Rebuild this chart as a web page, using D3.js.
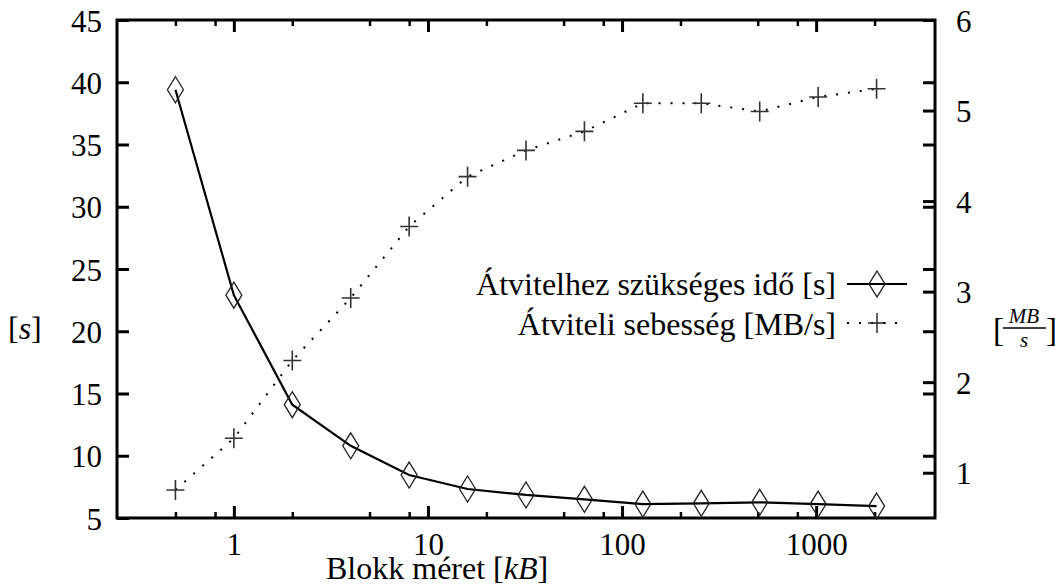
<!DOCTYPE html>
<html>
<head>
<meta charset="utf-8">
<script src="https://cdn.jsdelivr.net/npm/d3@7"></script>
<style>
  body { margin: 0; background: #fff; }
  svg, svg text { font-family: "Liberation Serif", "DejaVu Serif"; }
</style>
</head>
<body>
<div id="chart"></div>
<script>
// data
const blockSizes = [0.5, 1, 2, 4, 8, 16, 32, 64, 128, 256, 512, 1024, 2048];
const transferTime = [39.4, 22.9, 14.1, 10.8, 8.45, 7.33, 6.85, 6.5, 6.12, 6.18, 6.26, 6.12, 5.96];
const transferSpeed = [0.81, 1.38, 2.24, 2.93, 3.72, 4.27, 4.56, 4.77, 5.08, 5.08, 4.99, 5.15, 5.24];

const xMajorTicks = [1, 10, 100, 1000];
const xMinorTicks = [0.5, 0.8, 2, 5, 8, 20, 50, 80, 200, 500, 800, 2000];
const yLeftTicks = [5, 10, 15, 20, 25, 30, 35, 40, 45];
const yRightTicks = [1, 2, 3, 4, 5, 6];

const seriesNames = ["Átvitelhez szükséges idő [s]", "Átviteli sebesség [MB/s]"];

const width = 1056, height = 586;
const plot = { left: 117, right: 935, top: 20, bottom: 518 };
const serif = "Liberation Serif, DejaVu Serif";

const svg = d3.select("#chart").append("svg")
  .attr("width", width)
  .attr("height", height)
  .attr("font-family", serif);

// scales
const x = d3.scaleLog().domain([0.25, 4096]).range([plot.left, plot.right]);
const y1 = d3.scaleLinear().domain([5, 45]).range([plot.bottom, plot.top]);
const y2 = d3.scaleLinear().domain([0.5, 6]).range([plot.bottom, plot.top]);

const tickFont = 31;

function styleAxis(g, major) {
  g.attr("font-family", serif).attr("font-size", tickFont);
  g.select(".domain").remove();
  g.selectAll(".tick line").attr("stroke", "#000").attr("stroke-width", major ? 3 : 2.5);
  g.selectAll(".tick text")
    .attr("fill", "#000")
    .style("font-family", serif)
    .style("font-size", tickFont + "px");
}

const fmt = d => String(d);

// bottom axis - major + minor
svg.append("g")
  .attr("transform", `translate(0,${plot.bottom})`)
  .call(d3.axisBottom(x).tickValues(xMajorTicks).tickSize(-12).tickPadding(15).tickFormat(fmt))
  .call(g => styleAxis(g, true));

svg.append("g")
  .attr("transform", `translate(0,${plot.bottom})`)
  .call(d3.axisBottom(x).tickValues(xMinorTicks).tickSize(-6).tickFormat(""))
  .call(g => styleAxis(g, false));

// top mirror
svg.append("g")
  .attr("transform", `translate(0,${plot.top})`)
  .call(d3.axisTop(x).tickValues(xMajorTicks).tickSize(-12).tickFormat(""))
  .call(g => styleAxis(g, true));

svg.append("g")
  .attr("transform", `translate(0,${plot.top})`)
  .call(d3.axisTop(x).tickValues(xMinorTicks).tickSize(-6).tickFormat(""))
  .call(g => styleAxis(g, false));

// left axis
svg.append("g")
  .attr("transform", `translate(${plot.left},0)`)
  .call(d3.axisLeft(y1).tickValues(yLeftTicks).tickSize(-12).tickPadding(15).tickFormat(fmt))
  .call(g => styleAxis(g, true))
  .call(g => g.selectAll(".tick text").attr("dy", "0.36em"));

// right: mirrored y1 ticks + y2 axis
svg.append("g")
  .attr("transform", `translate(${plot.right},0)`)
  .call(d3.axisRight(y1).tickValues(yLeftTicks.slice(1, -1)).tickSize(-12).tickFormat(""))
  .call(g => styleAxis(g, true));

svg.append("g")
  .attr("transform", `translate(${plot.right},0)`)
  .call(d3.axisRight(y2).tickValues(yRightTicks).tickSize(-12).tickPadding(21).tickFormat(fmt))
  .call(g => styleAxis(g, true))
  .call(g => g.selectAll(".tick text").attr("dy", "0.36em"));

// frame
svg.append("rect")
  .attr("x", plot.left)
  .attr("y", plot.top)
  .attr("width", plot.right - plot.left)
  .attr("height", plot.bottom - plot.top)
  .attr("fill", "none")
  .attr("stroke", "#000")
  .attr("stroke-width", 3);

// axis titles
svg.append("text")
  .attr("x", 326)
  .attr("y", 579)
  .style("font-size", "32px")
  .html('Blokk méret [<tspan font-style="italic">kB</tspan>]');

svg.append("text")
  .attr("x", 8)
  .attr("y", 339)
  .style("font-size", "32px")
  .html('[<tspan font-style="italic">s</tspan>]');

const unit = svg.append("g").attr("transform", "translate(1024,0)");
unit.append("text").attr("x", -31).attr("y", 341).style("font-size", "33px").text("[");
unit.append("text").attr("x", 22).attr("y", 341).style("font-size", "33px").text("]");
unit.append("text").attr("x", 0).attr("y", 323).attr("text-anchor", "middle")
  .style("font-size", "21px").style("font-style", "italic").text("MB");
unit.append("line").attr("x1", -21).attr("x2", 22).attr("y1", 328).attr("y2", 328)
  .attr("stroke", "#000").attr("stroke-width", 1.5);
unit.append("text").attr("x", 0).attr("y", 347).attr("text-anchor", "middle")
  .style("font-size", "21px").style("font-style", "italic").text("s");

// series
const timeData = blockSizes.map((b, i) => ({ b, v: transferTime[i] }));
const speedData = blockSizes.map((b, i) => ({ b, v: transferSpeed[i] }));

const diamond = (cx, cy) => `M${cx},${cy - 13}L${cx + 8},${cy}L${cx},${cy + 13}L${cx - 8},${cy}Z`;
const plus = (cx, cy) => `M${cx - 9},${cy}H${cx + 9}M${cx},${cy - 10}V${cy + 10}`;

svg.append("path")
  .datum(speedData)
  .attr("fill", "none")
  .attr("stroke", "#000")
  .attr("stroke-width", 2)
  .attr("stroke-dasharray", "2,10")
  .attr("d", d3.line().x(d => x(d.b)).y(d => y2(d.v)));

svg.append("path")
  .datum(timeData)
  .attr("fill", "none")
  .attr("stroke", "#000")
  .attr("stroke-width", 2.2)
  .attr("d", d3.line().x(d => x(d.b)).y(d => y1(d.v)));

svg.selectAll(".diamond")
  .data(timeData)
  .enter().append("path")
  .attr("class", "diamond")
  .attr("fill", "none")
  .attr("stroke", "#222")
  .attr("stroke-width", 1.3)
  .attr("d", d => diamond(x(d.b), y1(d.v)));

svg.selectAll(".plus")
  .data(speedData)
  .enter().append("path")
  .attr("class", "plus")
  .attr("fill", "none")
  .attr("stroke", "#333")
  .attr("stroke-width", 1.6)
  .attr("d", d => plus(x(d.b), y2(d.v)));

// legend
const legend = svg.append("g");
const legendRows = [
  { name: seriesNames[0], y: 295, ly: 284, dash: null, marker: diamond },
  { name: seriesNames[1], y: 335, ly: 323, dash: "2,10", marker: plus }
];
legendRows.forEach(r => {
  legend.append("text")
    .attr("x", 836)
    .attr("y", r.y)
    .attr("text-anchor", "end")
    .style("font-size", "32px")
    .text(r.name);
  legend.append("line")
    .attr("x1", 847).attr("x2", 907)
    .attr("y1", r.ly).attr("y2", r.ly)
    .attr("stroke", "#000")
    .attr("stroke-width", 2)
    .attr("stroke-dasharray", r.dash);
  legend.append("path")
    .attr("fill", "none")
    .attr("stroke", "#222")
    .attr("stroke-width", 1.4)
    .attr("d", r.marker(877, r.ly));
});
</script>
</body>
</html>
